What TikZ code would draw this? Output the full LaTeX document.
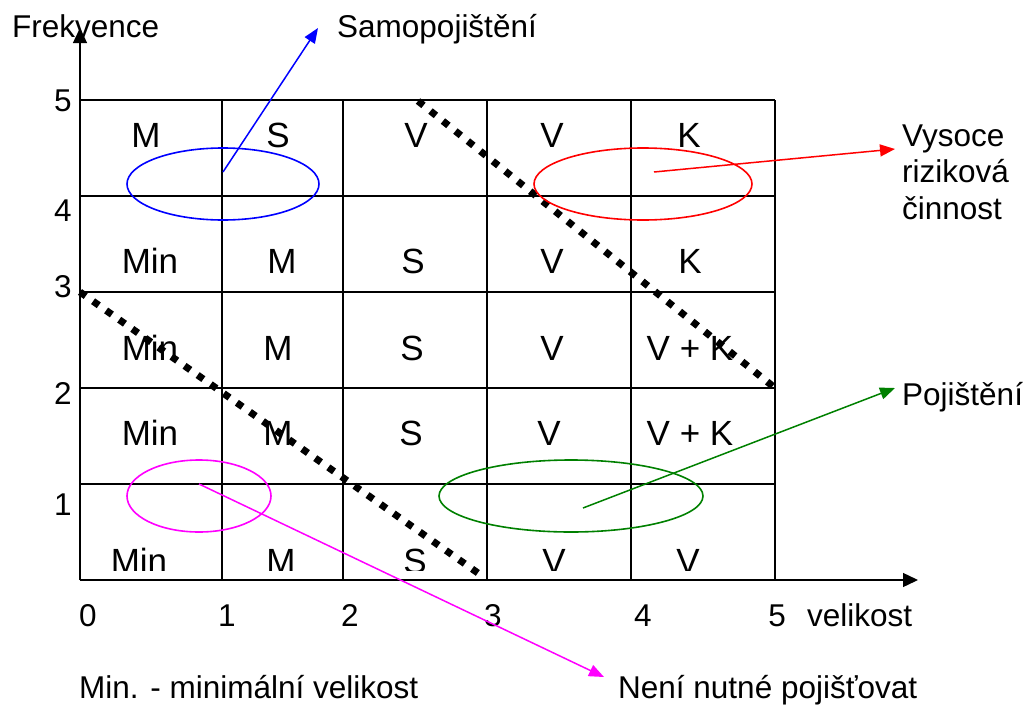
\documentclass[tikz,border=0pt]{standalone}
\usepackage{fontspec}
\setmainfont{Liberation Sans}
\usetikzlibrary{arrows.meta,shapes.geometric}
\definecolor{dkgreen}{RGB}{0,128,0}
\definecolor{pmagenta}{RGB}{255,0,255}
\definecolor{pblue}{RGB}{0,0,255}
\definecolor{pred}{RGB}{255,0,0}
\newcommand\lblfont{\fontsize{31.5}{36.5}\selectfont}
\newcommand\cellfont{\fontsize{35}{40}\selectfont}
\begin{document}
\begin{tikzpicture}[x=1pt,y=-1pt,
  gridline/.style={line width=1.4pt},
  axis/.style={line width=1.4pt,-{Triangle[length=15pt,width=14pt]}},
  dots/.style={line width=7pt,dash pattern=on 7pt off 9pt},
  oval/.style={ellipse,draw,line width=1.6pt,inner sep=0pt,minimum height=72pt},
  pointer/.style={line width=1.5pt,-{Triangle[length=15pt,width=12pt]}},
  lbl/.style={font=\lblfont,inner sep=0pt},
  num/.style={font=\lblfont,inner sep=0pt,anchor=base},
  cell/.style={font=\cellfont,inner sep=0pt,anchor=base}]
\useasboundingbox (0,0) rectangle (1033,704);
% grid
\foreach \y in {100,196,292,388,484}
  \draw[gridline] (80,\y) -- (775,\y);
\foreach \x in {222,343,487,631,775}
  \draw[gridline] (\x,100) -- (\x,580);
% axes
\coordinate (O) at (80,580);
\coordinate (ytip) at (80,28);
\coordinate (xtip) at (918,580);
\draw[axis] (O) -- (ytip);
\draw[axis] (O) -- (xtip);
% axis labels
\node[lbl,anchor=base west] (frek) at (12,37) {Frekvence};
\node[num] (y5) at (63,111) {5};
\node[num] (y4) at (63,221) {4};
\node[num] (y3) at (63,297) {3};
\node[num] (y2) at (63,404) {2};
\node[num] (y1) at (63,515) {1};
\node[num] (x0) at (88,626) {0};
\node[num] (x1) at (227,626) {1};
\node[num] (x2) at (350,626) {2};
\node[num] (x3) at (493,626) {3};
\node[num] (x4) at (643,626) {4};
\node[num] (x5) at (777,626) {5};
\node[lbl,anchor=base west] (vel) at (807,626) {velikost};
% cells
\node[cell] (c51) at (146,147) {M};
\node[cell] (c52) at (278,147) {S};
\node[cell] (c53) at (416,147) {V};
\node[cell] (c54) at (552,147) {V};
\node[cell] (c55) at (689,147) {K};
\node[cell] (c41) at (150,273) {Min};
\node[cell] (c42) at (282,273) {M};
\node[cell] (c43) at (413,273) {S};
\node[cell] (c44) at (552,273) {V};
\node[cell] (c45) at (690,273) {K};
\node[cell] (c31) at (150,360) {Min};
\node[cell] (c32) at (278,360) {M};
\node[cell] (c33) at (412,360) {S};
\node[cell] (c34) at (552,360) {V};
\node[cell] (c35) at (690,360) {V + K};
\node[cell] (c21) at (150,445) {Min};
\node[cell] (c22) at (278,445) {M};
\node[cell] (c23) at (411,445) {S};
\node[cell] (c24) at (549,445) {V};
\node[cell] (c25) at (690,445) {V + K};
\begin{scope}
\clip (80,484) rectangle (775,570);
\node[cell] (c11) at (139,573) {Min};
\node[cell] (c12) at (281,573) {M};
\node[cell] (c13) at (415,573) {S};
\node[cell] (c14) at (554,573) {V};
\node[cell] (c15) at (688,573) {V};
\end{scope}
% dotted borders
\coordinate (d1a) at (418,101);
\coordinate (d1b) at (775,388);
\coordinate (d2a) at (80,292);
\coordinate (d2b) at (485,578);
\draw[dots] (d1a) -- (d1b);
\draw[dots] (d2a) -- (d2b);
% ellipses
\node[oval,draw=pblue,minimum width=192pt] (eb) at (223,184) {};
\node[oval,draw=pred,minimum width=218pt] (er) at (643,184) {};
\node[oval,draw=pmagenta,minimum width=144pt] (em) at (199,496) {};
\node[oval,draw=dkgreen,minimum width=264pt] (eg) at (571,496) {};
% labels
\node[lbl,anchor=base west] (samo) at (337,37) {Samopojištění};
\node[lbl,anchor=north west,align=left] (vys) at (902,124.5) {Vysoce\\riziková\\činnost};
\node[lbl,anchor=base west] (poj) at (902,405) {Pojištění};
\node[lbl,anchor=base west] (minl) at (79,698) {Min. - minimální velikost};
\node[lbl,anchor=base west] (nen) at (618,698) {Není nutné pojišťovat};
% pointers
\coordinate (bs) at (223,172);
\coordinate (bt) at (318,28);
\coordinate (rs) at (654,172);
\coordinate (rt) at (895,149);
\coordinate (gs) at (583,508);
\coordinate (gt) at (895,388);
\coordinate (ms) at (199,484);
\coordinate (mt) at (604,677);
\draw[pointer,pblue] (bs) -- (bt);
\draw[pointer,pred] (rs) -- (rt);
\draw[pointer,dkgreen] (gs) -- (gt);
\draw[pointer,pmagenta] (ms) -- (mt);
\end{tikzpicture}
\end{document}
